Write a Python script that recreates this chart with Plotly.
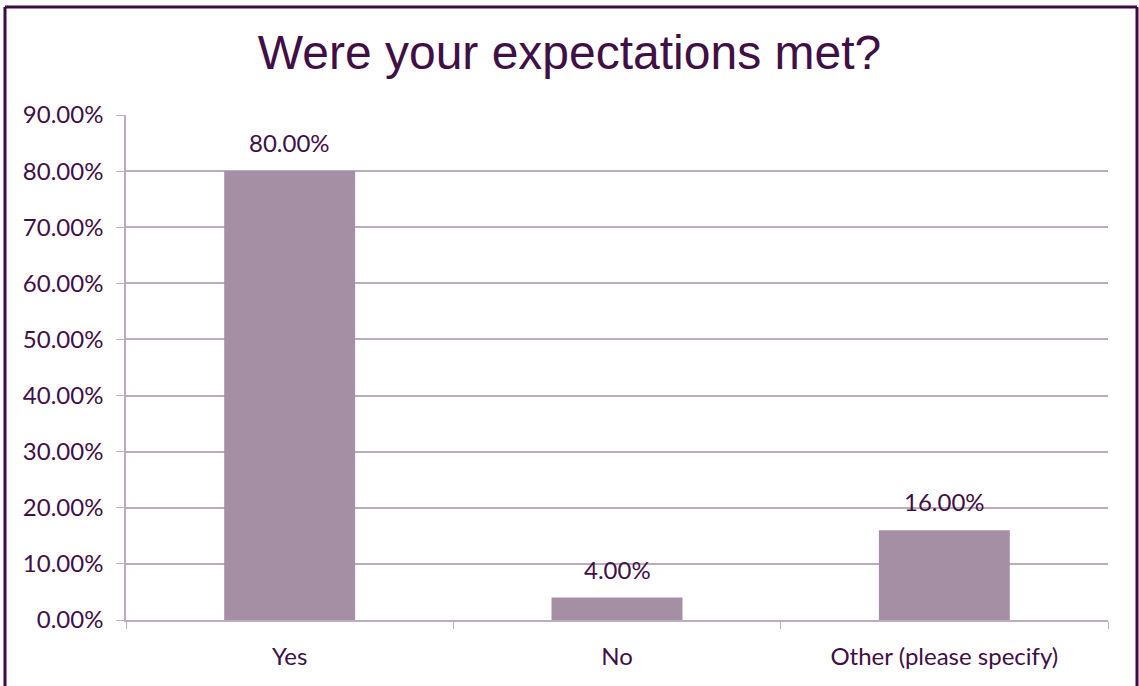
import plotly.graph_objects as go

categories = ["Yes", "No", "Other (please specify)"]
shares = [0.80, 0.04, 0.16]
y_ticks = [0.0, 0.1, 0.2, 0.3, 0.4, 0.5, 0.6, 0.7, 0.8, 0.9]
y_tick_labels = [f"{v * 100:.2f}%" for v in y_ticks]
value_labels = [f"{v * 100:.2f}%" for v in shares]

W, H = 1139, 686
L, R, T, B = 126, 31, 115, 66
PW, PH = W - L - R, H - T - B

TEXT = "#3f0f45"
GRID = "#bcacbf"
BAR = "#a58fa5"
FRAME = "#3d0a45"
FONT = "Lato, Open Sans, sans-serif"

fig = go.Figure(
    go.Bar(
        x=categories,
        y=shares,
        marker=dict(color=BAR, line=dict(width=0)),
        hoverinfo="x+y",
    )
)

# value labels floating above each bar
for cat, val, lab in zip(categories, shares, value_labels):
    fig.add_annotation(
        x=cat, y=val, text=lab, showarrow=False,
        yanchor="bottom", yshift=12,
        font=dict(size=24, color=TEXT, family=FONT),
    )


def px(x):
    return (x - L) / PW


def py(y):
    return (H - B - y) / PH


# outer frame around the whole chart
frame = dict(type="line", xref="paper", yref="paper",
             line=dict(color=FRAME, width=3))
fig.add_shape(**frame, x0=px(5), x1=px(5), y0=py(7), y1=py(686))
fig.add_shape(**frame, x0=px(5), x1=px(1137), y0=py(7), y1=py(7))
fig.add_shape(**frame, x0=px(1137), x1=px(1137), y0=py(7), y1=py(686))

fig.update_layout(
    width=W,
    height=H,
    margin=dict(l=L, r=R, t=T, b=B),
    paper_bgcolor="white",
    plot_bgcolor="white",
    bargap=0.6,
    showlegend=False,
    title=dict(
        text="Were your expectations met?",
        x=0.5,
        xanchor="center",
        y=1 - 52 / H,
        yanchor="middle",
        font=dict(family="Liberation Sans, Arial, sans-serif", size=48, color=TEXT),
    ),
    xaxis=dict(
        showgrid=False,
        showline=True,
        linecolor=GRID,
        linewidth=1.5,
        ticks="outside",
        tickson="boundaries",
        ticklen=7,
        tickcolor=GRID,
        ticklabelstandoff=14,
        tickfont=dict(size=24, color=TEXT, family=FONT),
    ),
    yaxis=dict(
        range=[0, 0.9],
        tickvals=y_ticks,
        ticktext=y_tick_labels,
        showgrid=True,
        gridcolor=GRID,
        gridwidth=1.5,
        showline=True,
        linecolor=GRID,
        linewidth=1.5,
        ticks="outside",
        ticklen=8,
        tickcolor=GRID,
        zeroline=False,
        ticklabelstandoff=8,
        tickfont=dict(size=24, color=TEXT, family=FONT),
    ),
)

fig.write_html("out.html")
